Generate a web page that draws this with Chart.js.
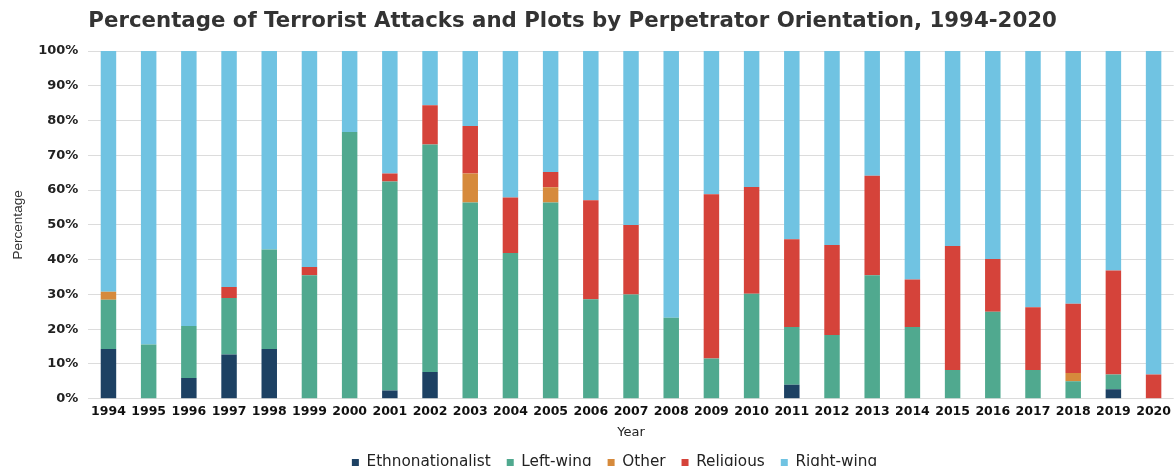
<!DOCTYPE html>
<html><head><meta charset="utf-8">
<script src="https://cdn.jsdelivr.net/npm/chart.js@4/dist/chart.umd.min.js"></script>
<style>html,body{margin:0;padding:0;background:#fff;overflow:hidden}#wrap{width:1176px;height:466px}</style>
</head><body><div id="wrap"><canvas id="c" width="1176" height="466"></canvas></div>
<script>
const years = ['1994','1995','1996','1997','1998','1999','2000','2001','2002','2003','2004','2005','2006','2007','2008','2009','2010','2011','2012','2013','2014','2015','2016','2017','2018','2019','2020'];
const ethnonationalist = [14.3,0,6.0,12.7,14.3,0,0,2.4,7.7,0,0,0,0,0,0,0,0,4.0,0,0,0,0,0,0,0,2.7,0];
const leftWing = [14.2,15.6,14.9,16.3,28.6,35.5,76.7,60.1,65.4,56.4,41.9,56.4,28.6,30.0,23.3,11.6,30.2,16.6,18.3,35.5,20.6,8.3,25.0,8.3,5.0,4.3,0];
const other = [2.3,0,0,0,0,0,0,0,0,8.4,0,4.4,0,0,0,0,0,0,0,0,0,0,0,0,2.4,0,0];
const religious = [0,0,0,3.1,0,2.4,0,2.3,11.3,13.6,16.0,4.4,28.5,20.0,0,47.2,30.7,25.3,25.9,28.6,13.7,35.6,15.2,18.0,19.9,29.9,7.0];
const rightWing = [69.2,84.4,79.1,67.9,57.1,62.1,23.3,35.2,15.6,21.6,42.1,34.8,42.9,50.0,76.7,41.2,39.1,54.1,55.8,35.9,65.7,56.1,59.8,73.7,72.7,63.1,93.0];
const yTicks = ['0%','10%','20%','30%','40%','50%','60%','70%','80%','90%','100%'];
const titleText = 'Percentage of Terrorist Attacks and Plots by Perpetrator Orientation, 1994-2020';

const titlePlugin = {
  id: 'leftTitle',
  afterLayout(chart) {
    if (chart.legend) { chart.legend.left += 24; chart.legend.right += 24; }
  },
  afterDraw(chart) {
    const ctx = chart.ctx;
    ctx.save();
    ctx.font = 'bold 21.3px "DejaVu Sans"';
    ctx.fillStyle = '#333333';
    ctx.textBaseline = 'middle';
    ctx.textAlign = 'left';
    ctx.fillText(titleText, chart.chartArea.left, 21);
    ctx.restore();
  }
};

const ds = (label, data, color) => ({label, data, backgroundColor: color, borderWidth: 0, barPercentage: 0.385, categoryPercentage: 1.0});
new Chart(document.getElementById('c'), {
  type: 'bar',
  data: {
    labels: years,
    datasets: [
      ds('Ethnonationalist', ethnonationalist, '#1d4163'),
      ds('Left-wing', leftWing, '#50a98f'),
      ds('Other', other, '#d68a3c'),
      ds('Religious', religious, '#d5433a'),
      ds('Right-wing', rightWing, '#70c3e2')
    ]
  },
  plugins: [titlePlugin],
  options: {
    responsive: false,
    animation: false,
    layout: {padding: {left: 6, right: 1, top: 51, bottom: -14}},
    plugins: {
      title: {display: false},
      legend: {position: 'bottom', labels: {boxWidth: 7, boxHeight: 7, color: '#222', padding: 16,
        font: {family: 'DejaVu Sans', size: 15.25}}},
      tooltip: {enabled: false}
    },
    scales: {
      x: {stacked: true, grid: {display: false, drawTicks: false}, border: {display: false},
        ticks: {autoSkip: false, maxRotation: 0, color: '#111', padding: 5, font: {family: 'DejaVu Sans', size: 12.5, weight: 'bold'}},
        title: {display: true, text: 'Year', color: '#222', padding: {top: 2, bottom: 0}, font: {family: 'DejaVu Sans', size: 13, lineHeight: 1}}},
      y: {stacked: true, min: 0, max: 100, border: {display: false},
        grid: {color: '#dcdcdc', drawTicks: false},
        ticks: {stepSize: 10, padding: 10, color: '#222', font: {family: 'DejaVu Sans', size: 13, weight: 'bold'},
          callback: (v, i) => yTicks[i]},
        title: {display: true, text: 'Percentage', color: '#333', padding: {top: 4, bottom: 2}, font: {family: 'Liberation Sans', size: 13.5}}}
    }
  }
});
</script></body></html>
